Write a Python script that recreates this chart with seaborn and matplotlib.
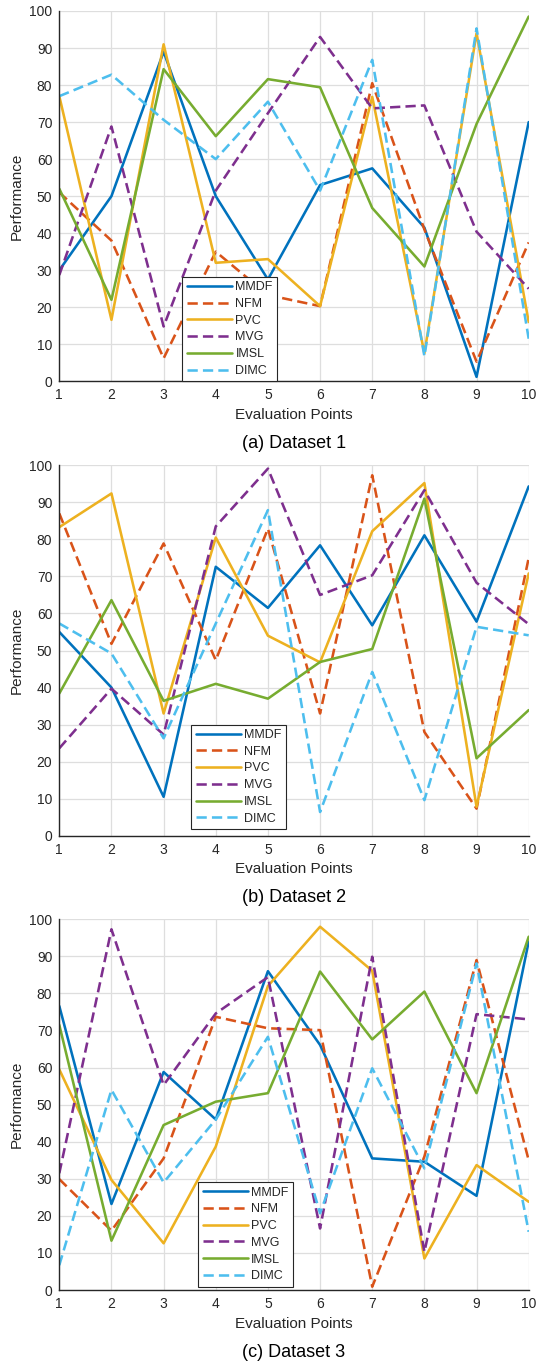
import matplotlib
matplotlib.use("Agg")
import matplotlib.pyplot as plt
import pandas as pd
import seaborn as sns

### Performance of six methods over ten evaluation points, three datasets

points = list(range(1, 11))
methods = ["MMDF", "NFM", "PVC", "MVG", "IMSL", "DIMC"]
colors = ["#0072BD", "#D95319", "#EDB120", "#7E2F8E", "#77AC30", "#4DBEEE"]
dashed = {"MMDF": False, "NFM": True, "PVC": False, "MVG": True, "IMSL": False, "DIMC": True}

# dataset 1
d1_mmdf = [30, 50, 89, 50, 27.5, 53, 57.5, 41.5, 1.2, 70]
d1_nfm = [51, 38, 6.2, 35, 23.3, 20.3, 80.5, 41, 5.3, 37.5]
d1_pvc = [77, 16.6, 91, 32, 33, 20.3, 76.8, 7.6, 94, 16]
d1_mvg = [28.7, 68.8, 14.8, 51.5, 72.4, 93, 73.7, 74.5, 40.4, 25]
d1_imsl = [52, 22, 84.3, 66.2, 81.6, 79.4, 46.8, 31, 69.5, 98.5]
d1_dimc = [77, 82.8, 70.6, 60, 75.5, 51.5, 86.8, 6.8, 95.3, 11.5]

# dataset 2
d2_mmdf = [55, 40, 10.5, 72.6, 61.5, 78.4, 56.8, 81.1, 57.8, 94.3]
d2_nfm = [87, 51.8, 78.9, 47.4, 82.9, 33, 97.3, 28, 7.3, 75]
d2_pvc = [83.3, 92.4, 33, 80.5, 54, 46.8, 82.2, 95.2, 7.8, 70.8]
d2_mvg = [23.6, 39.7, 27.3, 83.5, 99.1, 65, 70.3, 93.3, 68.3, 57.1]
d2_imsl = [38.4, 63.6, 36.4, 41, 37, 46.9, 50.4, 91, 20.9, 33.9]
d2_dimc = [57.3, 49.2, 26.3, 57.3, 87.9, 6.4, 44.2, 9.6, 56.4, 54.1]

# dataset 3
d3_mmdf = [76.6, 23.2, 58.8, 46, 86, 66.1, 35.5, 34.6, 25.4, 94]
d3_nfm = [29.9, 16, 35.5, 73.7, 70.6, 70.1, 0.9, 36, 89, 35]
d3_pvc = [59.5, 29.7, 12.6, 38.7, 82, 98, 86.1, 8.5, 33.7, 23.8]
d3_mvg = [31.5, 97.3, 55.3, 74.6, 84.4, 16.6, 89.9, 10.3, 74.4, 73]
d3_imsl = [71.5, 13.3, 44.5, 50.8, 53.1, 85.9, 67.6, 80.5, 53.1, 95.3]
d3_dimc = [6.7, 54, 29, 46, 68.3, 20.7, 59.8, 32.8, 88.1, 15.7]

datasets = [
    ("(a) Dataset 1", [d1_mmdf, d1_nfm, d1_pvc, d1_mvg, d1_imsl, d1_dimc]),
    ("(b) Dataset 2", [d2_mmdf, d2_nfm, d2_pvc, d2_mvg, d2_imsl, d2_dimc]),
    ("(c) Dataset 3", [d3_mmdf, d3_nfm, d3_pvc, d3_mvg, d3_imsl, d3_dimc]),
]

sns.set_style("white")
plt.rcParams["font.family"] = ["Liberation Sans", "DejaVu Sans"]

fig = plt.figure(figsize=(5.36, 13.62), dpi=100)

# axes placement in pixels: (top, bottom) and legend anchor (x, y) in axes coords
panel_top = [11, 465.3, 919.3]
panel_bot = [381.3, 835.7, 1290]
legend_anchor = [(0.262, 0.0), (0.281, 0.018), (0.296, 0.009)]
left_px, right_px = 59.3, 528.7
W, H = 536, 1362

palette = dict(zip(methods, colors))
dashes = {m: (4.0, 2.0) if dashed[m] else "" for m in methods}

for i, (caption, series) in enumerate(datasets):
    ax = fig.add_axes([left_px / W, 1 - panel_bot[i] / H,
                       (right_px - left_px) / W, (panel_bot[i] - panel_top[i]) / H])
    rows = []
    for m, vals in zip(methods, series):
        for p, v in zip(points, vals):
            rows.append({"point": p, "value": v, "method": m})
    df = pd.DataFrame(rows)

    sns.lineplot(data=df, x="point", y="value", hue="method", style="method",
                 hue_order=methods, style_order=methods, palette=palette,
                 dashes=dashes, linewidth=1.85, legend=False, ax=ax)

    ax.set_xlim(1, 10)
    ax.set_ylim(0, 100)
    ax.set_xticks(points)
    ax.set_yticks(range(0, 101, 10))
    ax.grid(True, color="#dedede", linewidth=0.9)
    ax.set_axisbelow(True)
    for s in ["top", "right"]:
        ax.spines[s].set_visible(False)
    for s in ["left", "bottom"]:
        ax.spines[s].set_color("#262626")
        ax.spines[s].set_linewidth(1.0)
    ax.tick_params(direction="in", length=3.5, width=0.8, colors="#262626",
                   labelsize=10, pad=5, labelcolor="#262626")
    ax.set_xlabel("Evaluation Points", fontsize=11, color="#262626", labelpad=4)
    ax.set_ylabel("Performance", fontsize=11, color="#262626", labelpad=4)

    lines = ax.get_lines()[:len(methods)]
    leg = ax.legend(lines, methods, loc="lower left", bbox_to_anchor=legend_anchor[i],
                    borderaxespad=0, fontsize=9, handlelength=3.6, handletextpad=0.3,
                    labelspacing=0.38, borderpad=0.35, fancybox=False, framealpha=1,
                    edgecolor="#262626")
    leg.get_frame().set_linewidth(0.8)

    ax.text(0.5, -0.168, caption, transform=ax.transAxes, ha="center", va="center",
            fontsize=13, color="black")

fig.savefig("out.png", dpi=100)
plt.close()
